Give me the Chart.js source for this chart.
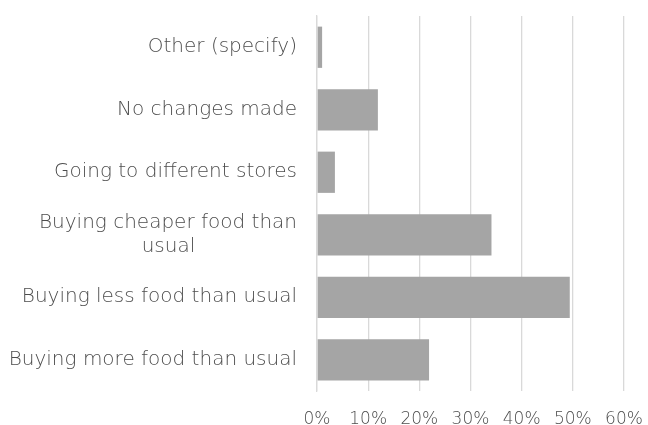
<!DOCTYPE html>
<html>
<head>
  <title>Changes in food shopping</title>
  <style>
    html, body { margin: 0; padding: 0; background: #ffffff; }
    .chart-container { width: 648px; height: 425px; position: relative; }
  </style>
</head>
<body>
  <div class="chart-container">
    <canvas id="chart"></canvas>
  </div>

  <script src="https://cdn.jsdelivr.net/npm/chart.js"></script>
  <script>
    // категории сверху вниз, как на картинке
    const categories = [
      'Other (specify)',
      'No changes made',
      'Going to different stores',
      ['Buying cheaper food than', 'usual'],
      'Buying less food than usual',
      'Buying more food than usual'
    ];
    const shares = [1.0, 11.9, 3.5, 34.1, 49.4, 21.9]; // проценты
    const xTicks = [0, 10, 20, 30, 40, 50, 60];

    const labelFont = { family: 'DejaVu Sans', size: 20, weight: '200', lineHeight: 1.2 };
    const tickFont = { family: 'DejaVu Sans', size: 17, weight: '200' };

    // вторая строка подписи по центру первой - добиваем пробелами
    let canvas = document.getElementById('chart');
    let context = canvas.getContext('2d');
    context.font = '200 20px "DejaVu Sans"';
    const padLabel = (lines) => {
      if (!Array.isArray(lines)) return lines;
      let w0 = context.measureText(lines[0]).width;
      let space = context.measureText('\u00a0').width;
      return lines.map(line => {
        let w = context.measureText(line).width;
        let n = Math.round((w0 - w) / 2 / space);
        return line + '\u00a0'.repeat(Math.max(0, n));
      });
    };
    const labels = categories.map(padLabel);

    new Chart(context, {
      type: 'bar',
      data: {
        labels: labels,
        datasets: [{
          data: shares,
          backgroundColor: '#a5a5a5',
          borderWidth: 0,
          barPercentage: 0.66,
          categoryPercentage: 1.0
        }]
      },
      options: {
        indexAxis: 'y',
        responsive: true,
        maintainAspectRatio: false,
        animation: false,
        layout: { padding: 0 },
        plugins: { legend: { display: false }, tooltip: { enabled: false } },
        scales: {
          x: {
            min: 0,
            max: 60,
            afterBuildTicks: (axis) => { axis.ticks = xTicks.map(v => ({ value: v })); },
            afterFit: (axis) => {
              axis.height = 34;
              axis.paddingLeft = 0;
              axis.paddingRight = 24;
            },
            grid: { color: '#d9d9d9', lineWidth: 1.3, drawTicks: false },
            border: { display: false },
            ticks: {
              padding: 18,
              color: '#4d4d4d',
              font: tickFont,
              callback: (value) => value + '%'
            }
          },
          y: {
            afterFit: (axis) => {
              axis.width = 317;
              axis.paddingTop = 16;
              axis.paddingBottom = 0;
            },
            grid: { display: false },
            border: { display: true, color: '#d9d9d9', width: 1.3 },
            ticks: {
              padding: 12,
              color: '#4d4d4d',
              font: labelFont,
              autoSkip: false
            }
          }
        }
      }
    });
  </script>
</body>
</html>
